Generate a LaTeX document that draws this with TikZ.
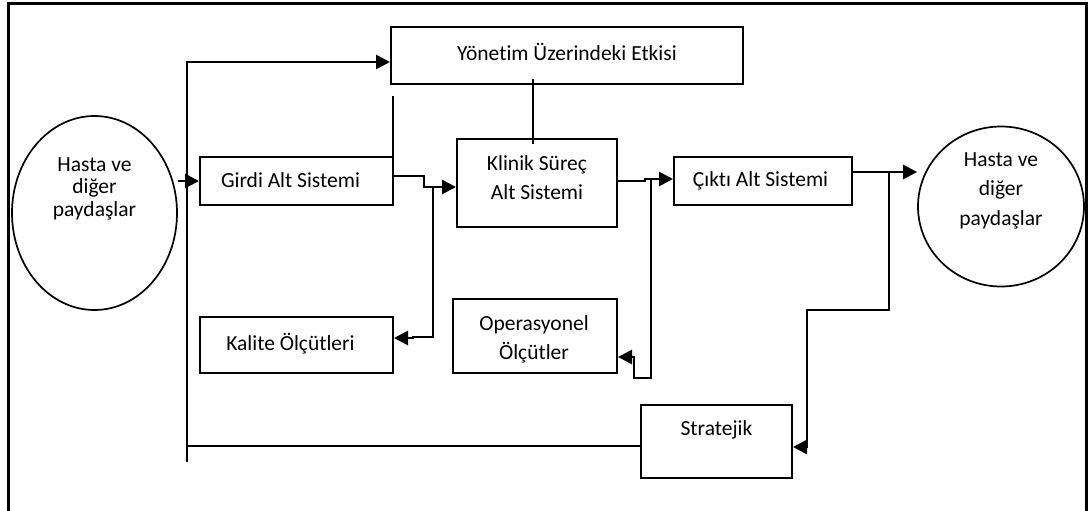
\documentclass[tikz,border=0pt]{standalone}
\usepackage{fontspec}
\setmainfont{Carlito}[Ligatures={NoCommon}]
\usetikzlibrary{arrows.meta,shapes.geometric}
\newcommand\boxtxt[3]{\raisebox{#2}[0pt][0pt]{\makebox[0pt]{\hspace*{#1}\begin{tabular}{@{}c@{}}#3\end{tabular}}}}
\begin{document}
\begin{tikzpicture}[x=1pt,y=-1pt,
  box/.style={draw, line width=2pt, rectangle, inner sep=0pt, font=\fontsize{21.5}{29.5}\selectfont},
  oval/.style={draw, line width=1.7pt, ellipse, inner sep=0pt, font=\fontsize{21.5}{29.5}\selectfont},
  conn/.style={line width=2.8pt},
  arr/.style={conn, -{Triangle[length=14pt,width=14pt]}}]
\useasboundingbox (0,0) rectangle (1088,511);
\draw[line width=3pt] (8,530) -- (8,4) -- (1086.5,4) -- (1086.5,530);

\node[oval, minimum width=165pt, minimum height=194pt, font=\fontsize{21.5}{22.5}\selectfont] (hl) at (94.5,213) {\boxtxt{0pt}{18.5pt}{Hasta ve\\diğer\\paydaşlar}};
\node[oval, minimum width=166pt, minimum height=160pt] (hr) at (1001,206.5) {\boxtxt{0pt}{11.5pt}{Hasta ve\\diğer\\paydaşlar}};
\node[box, minimum width=352pt, minimum height=57pt] (yon) at (567,55.5) {\boxtxt{0pt}{-4.5pt}{Yönetim Üzerindeki Etkisi}};
\node[box, minimum width=193pt, minimum height=48pt] (girdi) at (296.5,181) {\boxtxt{-12pt}{-6pt}{Girdi Alt Sistemi}};
\node[box, minimum width=160pt, minimum height=88pt] (klinik) at (537,183) {\boxtxt{0pt}{-1.5pt}{Klinik Süreç\\Alt Sistemi}};
\node[box, minimum width=178pt, minimum height=48pt] (cikti) at (763,181) {\boxtxt{-5pt}{-5pt}{Çıktı Alt Sistemi}};
\node[box, minimum width=193pt, minimum height=56pt] (kalite) at (296.5,345) {\boxtxt{-12pt}{-5pt}{Kalite Ölçütleri}};
\node[box, minimum width=164pt, minimum height=74pt] (ops) at (535,336) {\boxtxt{-2pt}{-8.5pt}{Operasyonel\\Ölçütler}};
\node[box, minimum width=151pt, minimum height=73pt] (strat) at (716.5,441.5) {\boxtxt{0pt}{7pt}{Stratejik}};

% connectors
\draw[arr] (hl.east |- girdi.west) -- (girdi.west);
\coordinate (lb) at (187,462);
\draw[conn, line width=2pt] ([yshift=-4.5pt]strat.west) -- (187,446);
\draw[arr] (lb) -- (187,62) -- (yon.west |- 0,62);
\coordinate (gt) at (393,96);
\draw[conn, line width=2.2pt] (gt |- girdi.north) -- (gt);
\draw[conn, line width=2pt, shorten <=-6pt, shorten >=-6pt] ([xshift=-4pt]klinik.north) -- ([xshift=-4pt]klinik.north |- yon.south);
\draw[arr] ([yshift=5pt]girdi.east) -- (424,176) -- (424,187) -- ([yshift=-4pt]klinik.west);
\draw[arr] (433,187) -- (433,337) -- (413,337) -- (413,338) -- (kalite.east |- 0,338);
\draw[arr] ([yshift=2pt]klinik.east) -- (645,181) -- (645,179) -- (cikti.west |- 0,179);
\draw[arr] (651,179) -- (651,378) -- (634,378) -- (634,357) -- (ops.east |- 0,357);
\draw[arr] ([yshift=9pt]cikti.east) -- (hr.west |- 0,172);
\draw[arr] (889,172) -- (889,310) -- (807,310) -- (807,447) -- (strat.east |- 0,447);
\end{tikzpicture}
\end{document}
